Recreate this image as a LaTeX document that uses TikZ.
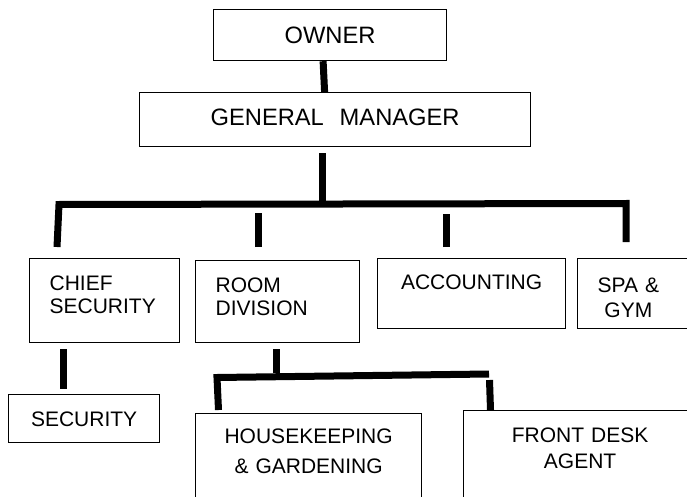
\documentclass[tikz,border=0pt]{standalone}
\usepackage{fontspec}
\setmainfont{Liberation Sans}

\tikzset{
  unit/.style={draw,line width=1.2pt,anchor=north west,inner ysep=0pt,
    font=\fontsize{21}{25}\selectfont},
  head/.style={unit,font=\fontsize{23.7}{28}\selectfont},
  link/.style={line width=7pt}
}

\begin{document}
\begin{tikzpicture}[x=1pt,y=-1pt]
  \useasboundingbox (0,0) rectangle (687,497);

  \node[head,text width=233pt,inner xsep=0pt,align=center,text height=34pt,text depth=17pt] (owner) at (213,9) {OWNER};
  \node[head,text width=391pt,inner xsep=0pt,align=center,text height=33pt,text depth=21pt] (gm) at (139,92) {GENERAL~~MANAGER};

  \node[unit,text width=110pt,inner xsep=20pt,align=left,text height=31.5pt,text depth=52.5pt,
    font=\fontsize{21}{23.3}\selectfont] (cs) at (29,258) {CHIEF\\SECURITY};
  \node[unit,text width=124pt,inner xsep=20pt,align=left,text height=32pt,text depth=50pt,
    font=\fontsize{21}{23}\selectfont] (rd) at (195,260) {ROOM\\DIVISION};
  \node[unit,text width=188pt,inner xsep=0pt,align=center,text height=31pt,text depth=39pt] (acc) at (377,258) {ACCOUNTING};
  \node[unit,text width=90pt,inner xsep=20pt,align=left,text height=34pt,text depth=36pt,
    font=\fontsize{21}{24.5}\selectfont] (spa) at (577,258) {\begin{tabular}[t]{@{}c@{}}SPA \&\\GYM\end{tabular}};

  \node[unit,text width=151pt,inner xsep=0pt,align=center,text height=31.5pt,text depth=16.5pt] (sec) at (8,394) {SECURITY};
  \node[unit,text width=226pt,inner xsep=0pt,align=center,text height=30.3pt,text depth=64.7pt,
    font=\fontsize{21}{30}\selectfont] (hk) at (195,413) {HOUSEKEEPING\\\& GARDENING};
  \node[unit,text width=233pt,inner xsep=0pt,align=center,text height=31.7pt,text depth=54.8pt,
    font=\fontsize{21}{26.5}\selectfont] (fd) at (463,410) {FRONT DESK\\AGENT};

  % main bar under the manager
  \coordinate (bus west) at (59,204.5);
  \coordinate (bus east) at (626,203.5);
  \draw[link] ([xshift=-7pt]owner.south) -- ([xshift=-10.5pt]gm.north);
  \draw[link] ([xshift=-12.5pt,yshift=-6pt]gm.south) -- ([xshift=-12.5pt]gm.south |- bus east);
  \draw[link] ([xshift=28pt,yshift=11pt]cs.north west) -- (bus west) -- (bus east) -- ([xshift=49pt,yshift=16pt]spa.north west);
  \draw[link] ([xshift=-19.5pt,yshift=13pt]rd.north) -- ++(0,-34);
  \draw[link] ([xshift=-25.5pt,yshift=11pt]acc.north) -- ++(0,-33);

  \draw[link] ([xshift=-41pt,yshift=-6pt]cs.south) -- ++(0,40);

  % bar under room division
  \coordinate (sub west) at (217,377.5);
  \coordinate (sub east) at (489,374);
  \draw[link] ([xshift=-1.5pt,yshift=-6pt]rd.south) -- ++(0,24);
  \draw[link] ([xshift=23.5pt,yshift=3pt]hk.north west) -- (sub west) -- (sub east);
  \draw[link] ([xshift=26.5pt,yshift=30pt]fd.north west) -- ([xshift=27.5pt]fd.north west);
\end{tikzpicture}
\end{document}
